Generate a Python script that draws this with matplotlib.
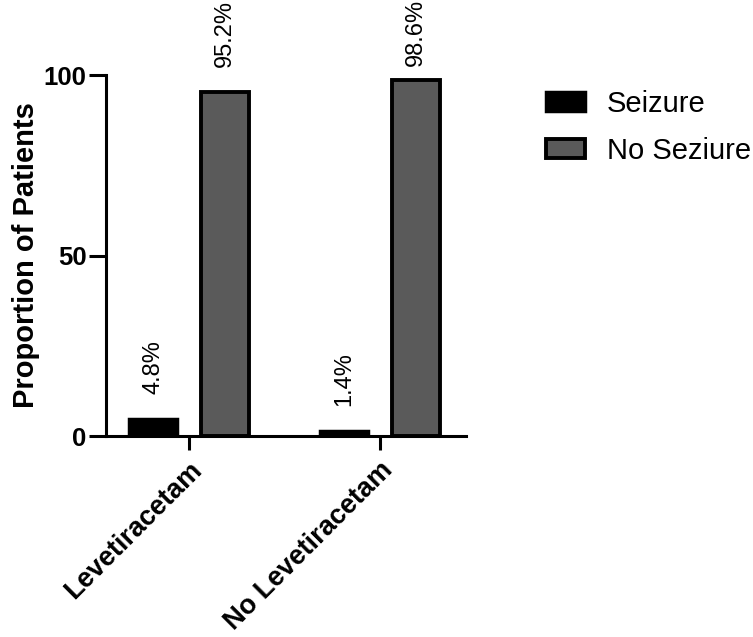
import matplotlib
matplotlib.use('Agg')
import matplotlib.pyplot as plt
import numpy as np

plt.rcParams['font.family'] = ['Liberation Sans', 'DejaVu Sans']

# data
groups = ['Levetiracetam', 'No Levetiracetam']
seizure = [4.8, 1.4]
no_seizure = [95.2, 98.6]
series_names = ['Seizure', 'No Seziure']

fig = plt.figure(figsize=(7.53, 6.37), dpi=100)
ax = fig.add_axes([0.1408, 0.3155, 0.4782, 0.5667])

x = np.arange(len(groups))
w = 0.25
off = 0.188
b1 = ax.bar(x - off, seizure, w, color='black', edgecolor='black', linewidth=2.5,
            label=series_names[0])
b2 = ax.bar(x + off, no_seizure, w, color='#5a5a5a', edgecolor='black', linewidth=2.8,
            label=series_names[1])

# value labels above bars; tall ones kept inside the figure like the original
label_cap = 95.5
for bars, vals in [(b1, seizure), (b2, no_seizure)]:
    for r, v in zip(bars, vals):
        ax.annotate(f'{v}%', (r.get_x() + r.get_width() / 2, min(v, label_cap)),
                    xytext=(0, 18), textcoords='offset points',
                    rotation=90, ha='center', va='bottom', fontsize=17,
                    annotation_clip=False)

ax.set_xlim(-0.435, 1.45)
ax.set_ylim(0, 100)
ax.set_yticks([0, 50, 100])
ax.set_xticks(x)
ax.set_xticklabels(groups, rotation=45, ha='right', rotation_mode='anchor',
                   fontsize=19.5, fontweight='bold')
for lab in ax.get_yticklabels():
    lab.set_fontsize(18.5)
    lab.set_fontweight('bold')
ax.tick_params(axis='y', length=12, width=2.2, pad=2)
ax.tick_params(axis='x', length=10, width=2.2, pad=5)
ax.spines['top'].set_visible(False)
ax.spines['right'].set_visible(False)
ax.spines['left'].set_linewidth(2.2)
ax.spines['bottom'].set_linewidth(2.2)
ax.set_ylabel('Proportion of Patients', fontsize=21, fontweight='bold', labelpad=3)

fig.legend(handles=[b1, b2], loc='upper left', bbox_to_anchor=(0.69, 0.9),
           frameon=False, fontsize=21, handlelength=1.35, handleheight=0.62,
           handletextpad=0.75, labelspacing=0.65)

fig.savefig('out.png', dpi=100)
